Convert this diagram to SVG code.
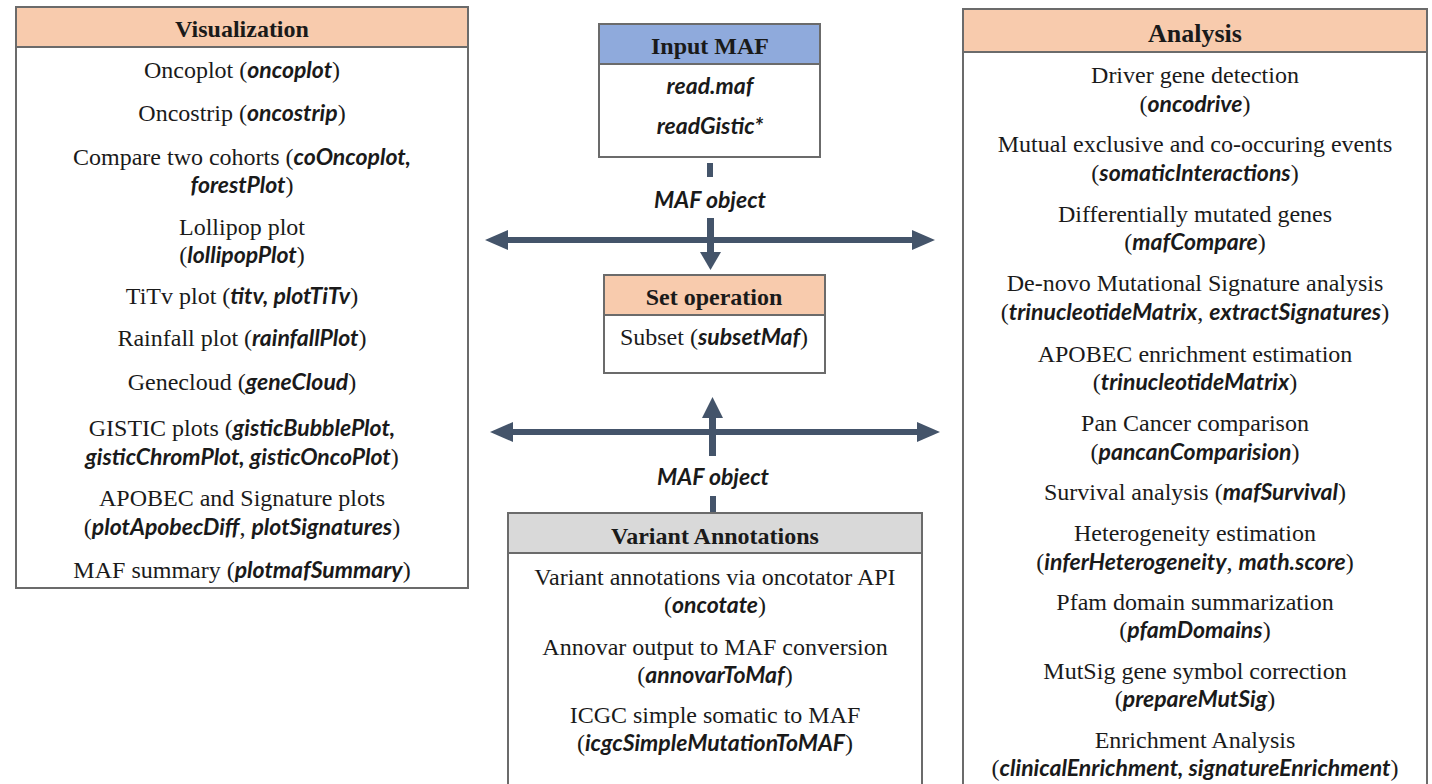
<svg xmlns="http://www.w3.org/2000/svg" width="1432" height="784" viewBox="0 0 1432 784">
<style>
.box{fill:#fff;stroke:#6b6b6b;stroke-width:2}
.hp{fill:#F8CBAD;stroke:#6b6b6b;stroke-width:2}
.hb{fill:#8FAADC;stroke:#6b6b6b;stroke-width:2}
.hg{fill:#D9D9D9;stroke:#6b6b6b;stroke-width:2}
.h{font-family:"Liberation Serif","Times New Roman",serif;font-weight:bold;font-size:24px;fill:#1a1a1a;text-anchor:middle}
.t{font-family:"Liberation Serif","Times New Roman",serif;font-size:24px;fill:#1a1a1a;text-anchor:middle}
.f{font-family:Lato,"Liberation Sans",sans-serif;font-weight:bold;font-style:italic;font-size:23px}
.ar{fill:#44546A}
</style>
<rect width="1432" height="784" fill="#fff"/>
<g id="connectors">
<rect class="ar" x="707" y="163" width="6" height="14"/>
<text class="t" x="710" y="208"><tspan class="f">MAF object</tspan></text>
<rect class="ar" x="707" y="218" width="7" height="36"/>
<polygon class="ar" points="700,252 721,252 710.5,270"/>
<rect class="ar" x="505" y="237" width="410" height="6"/>
<polygon class="ar" points="485,240 508,230 508,250"/>
<polygon class="ar" points="935,240 912,230 912,250"/>
<rect class="ar" x="510" y="429" width="410" height="6"/>
<polygon class="ar" points="490,432 513,422 513,442"/>
<polygon class="ar" points="940,432 917,422 917,442"/>
<rect class="ar" x="709" y="416" width="7" height="40"/>
<polygon class="ar" points="702,418 723,418 712.5,397"/>
<text class="t" x="713" y="485"><tspan class="f">MAF object</tspan></text>
<rect class="ar" x="710" y="496" width="6" height="17"/>
</g>
<g id="visualization">
<rect class="box" x="16" y="7" width="452" height="581"/>
<rect class="hp" x="16" y="7" width="452" height="40"/>
<text class="h" x="242" y="37">Visualization</text>
<text class="t" x="242" y="78">Oncoplot (<tspan class="f">oncoplot</tspan>)</text>
<text class="t" x="242" y="121">Oncostrip (<tspan class="f">oncostrip</tspan>)</text>
<text class="t" x="242" y="165">Compare two cohorts (<tspan class="f">coOncoplot,</tspan></text>
<text class="t" x="242" y="193"><tspan class="f">forestPlot</tspan>)</text>
<text class="t" x="242" y="235">Lollipop plot</text>
<text class="t" x="242" y="263">(<tspan class="f">lollipopPlot</tspan>)</text>
<text class="t" x="242" y="304">TiTv plot (<tspan class="f">titv, plotTiTv</tspan>)</text>
<text class="t" x="242" y="346">Rainfall plot (<tspan class="f">rainfallPlot</tspan>)</text>
<text class="t" x="242" y="390">Genecloud (<tspan class="f">geneCloud</tspan>)</text>
<text class="t" x="242" y="436">GISTIC plots (<tspan class="f">gisticBubblePlot,</tspan></text>
<text class="t" x="242" y="465"><tspan class="f">gisticChromPlot, gisticOncoPlot</tspan>)</text>
<text class="t" x="242" y="506">APOBEC and Signature plots</text>
<text class="t" x="242" y="535">(<tspan class="f">plotApobecDiff</tspan>, <tspan class="f">plotSignatures</tspan>)</text>
<text class="t" x="242" y="578">MAF summary (<tspan class="f">plotmafSummary</tspan>)</text>
</g>
<g id="input-maf">
<rect class="box" x="599" y="24" width="221" height="133"/>
<rect class="hb" x="599" y="24" width="221" height="40"/>
<text class="h" x="710" y="54">Input MAF</text>
<text class="t" x="710" y="94"><tspan class="f">read.maf</tspan></text>
<text class="t" x="710" y="134"><tspan class="f">readGistic*</tspan></text>
</g>
<g id="set-operation">
<rect class="box" x="604" y="275" width="221" height="98"/>
<rect class="hp" x="604" y="275" width="221" height="40"/>
<text class="h" x="714" y="305">Set operation</text>
<text class="t" x="714" y="345">Subset (<tspan class="f">subsetMaf</tspan>)</text>
</g>
<g id="variant-annotations">
<rect class="box" x="508" y="513" width="414" height="290"/>
<rect class="hg" x="508" y="513" width="414" height="40"/>
<text class="h" x="715" y="544">Variant Annotations</text>
<text class="t" x="715" y="585">Variant annotations via oncotator API</text>
<text class="t" x="715" y="613">(<tspan class="f">oncotate</tspan>)</text>
<text class="t" x="715" y="655">Annovar output to MAF conversion</text>
<text class="t" x="715" y="683">(<tspan class="f">annovarToMaf</tspan>)</text>
<text class="t" x="715" y="723">ICGC simple somatic to MAF</text>
<text class="t" x="715" y="751">(<tspan class="f">icgcSimpleMutationToMAF</tspan>)</text>
</g>
<g id="analysis">
<rect class="box" x="963" y="9" width="464" height="800"/>
<rect class="hp" x="963" y="9" width="464" height="43"/>
<text class="h" x="1195" y="42" style="font-size:26px">Analysis</text>
<text class="t" x="1195" y="83">Driver gene detection</text>
<text class="t" x="1195" y="112">(<tspan class="f">oncodrive</tspan>)</text>
<text class="t" x="1195" y="152">Mutual exclusive and co-occuring events</text>
<text class="t" x="1195" y="181">(<tspan class="f">somaticInteractions</tspan>)</text>
<text class="t" x="1195" y="222">Differentially mutated genes</text>
<text class="t" x="1195" y="250">(<tspan class="f">mafCompare</tspan>)</text>
<text class="t" x="1195" y="291">De-novo Mutational Signature analysis</text>
<text class="t" x="1195" y="320">(<tspan class="f">trinucleotideMatrix</tspan>, <tspan class="f">extractSignatures</tspan>)</text>
<text class="t" x="1195" y="362">APOBEC enrichment estimation</text>
<text class="t" x="1195" y="390">(<tspan class="f">trinucleotideMatrix</tspan>)</text>
<text class="t" x="1195" y="431">Pan Cancer comparison</text>
<text class="t" x="1195" y="460">(<tspan class="f">pancanComparision</tspan>)</text>
<text class="t" x="1195" y="500">Survival analysis (<tspan class="f">mafSurvival</tspan>)</text>
<text class="t" x="1195" y="541">Heterogeneity estimation</text>
<text class="t" x="1195" y="570">(<tspan class="f">inferHeterogeneity</tspan>, <tspan class="f">math.score</tspan>)</text>
<text class="t" x="1195" y="610">Pfam domain summarization</text>
<text class="t" x="1195" y="638">(<tspan class="f">pfamDomains</tspan>)</text>
<text class="t" x="1195" y="679">MutSig gene symbol correction</text>
<text class="t" x="1195" y="707">(<tspan class="f">prepareMutSig</tspan>)</text>
<text class="t" x="1195" y="748">Enrichment Analysis</text>
<text class="t" x="1195" y="776">(<tspan class="f">clinicalEnrichment, signatureEnrichment</tspan>)</text>
</g>
</svg>
